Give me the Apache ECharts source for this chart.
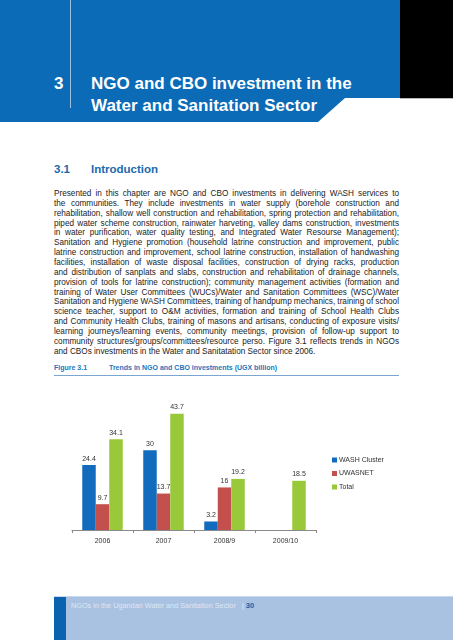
<!DOCTYPE html>
<html>
<head>
<meta charset="utf-8">
<script src="https://cdn.jsdelivr.net/npm/echarts@6/dist/echarts.min.js"></script>
<style>
  html, body { margin: 0; padding: 0; background: #fff; }
  #page { position: relative; width: 453px; height: 640px; overflow: hidden; font-family: "Liberation Sans", Arial, sans-serif; }
  .abs { position: absolute; }
  #hdr { left: 0; top: 0; width: 400px; height: 122px; background: #0b6bb6;
         clip-path: polygon(0 0, 400px 0, 400px 98px, 345px 98px, 318px 122px, 0 122px); }
  #blk { left: 400px; top: 0; width: 53px; height: 98px; background: #000; border-bottom: 1px solid #b8b8b8; }
  #vline { left: 70px; top: 0; width: 1px; height: 108px; background: #9cc0e4; }
  .ttl { color: #fff; font-weight: bold; font-size: 17px; line-height: 20px; white-space: nowrap; }
  #sec { top: 160px; color: #1b6aad; font-weight: bold; font-size: 11.5px; line-height: 19px; white-space: nowrap; }
  .bl { position: absolute; left: 54px; width: 345px; font-size: 8.2px; line-height: 10px; color: #222; white-space: nowrap; }
  .cap { top: 363px; color: #2376bd; font-weight: bold; font-size: 7px; line-height: 10px; white-space: nowrap; }
  #rule { left: 54px; top: 375px; width: 345px; height: 1px; background: #7aa6d1; }
  #foot { left: 54px; top: 596px; width: 399px; height: 44px; background: #aac2e1; border-top: 1px solid #c9daf0; }
  #fstrip { left: 54px; top: 597px; width: 12px; height: 43px; background: #0b63b0; }
  #ftext { left: 71px; top: 600px; font-size: 7.3px; line-height: 11px; color: #dde7f4; white-space: nowrap; }
  #chart { position: absolute; left: 0; top: 0; width: 453px; height: 640px; }
</style>
</head>
<body>
<div id="page">
  <div id="hdr" class="abs"></div>
  <div id="blk" class="abs"></div>
  <div id="vline" class="abs"></div>
  <div class="abs ttl" style="left:54px; top:74px;">3</div>
  <div class="abs ttl" style="left:91px; top:74px;">NGO and CBO investment in the</div>
  <div class="abs ttl" style="left:91px; top:96px;">Water and Sanitation Sector</div>

  <div id="sec" class="abs" style="left:54px;">3.1</div>
  <div id="sec2" class="abs" style="left:91px; top:160px; color:#1b6aad; font-weight:bold; font-size:11.5px; line-height:19px; white-space:nowrap;">Introduction</div>

  <div id="body"></div>

  <div class="abs cap" style="left:54px;">Figure 3.1</div>
  <div class="abs cap" style="left:109px;">Trends in NGO and CBO investments (UGX billion)</div>
  <div id="rule" class="abs"></div>

  <div id="foot" class="abs"></div>
  <div id="fstrip" class="abs"></div>
  <div id="ftext" class="abs">NGOs in the Ugandan Water and Sanitation Sector &nbsp;&nbsp;<span style="color:#e6eef8;">|</span> <b style="color:#1a62ad; font-size:7.6px;">30</b></div>

  <div id="chart"></div>
</div>
<script>
// ---- data ----
const categories = ["2006", "2007", "2008/9", "2009/10"];
const washCluster = [24.4, 30, 3.2, null];
const uwasnet = [9.7, 13.7, 16, null];
const total = [34.1, 43.7, 19.2, 18.5];
const seriesNames = ["WASH Cluster", "UWASNET", "Total"];

const bodyLines = [
  "Presented in this chapter are NGO and CBO investments in delivering WASH services to",
  "the communities. They include investments in water supply (borehole construction and",
  "rehabilitation, shallow well construction and rehabilitation, spring protection and rehabilitation,",
  "piped water scheme construction, rainwater harveting, valley dams construction, investments",
  "in water purification, water quality testing, and Integrated Water Resourse Management);",
  "Sanitation and Hygiene promotion (household latrine construction and improvement, public",
  "latrine construction and improvement, school latrine construction, installation of handwashing",
  "facilities, installation of waste disposal facilities, construction of drying racks, production",
  "and distribution of sanplats and slabs, construction and rehabilitation of drainage channels,",
  "provision of tools for latrine construction); community management activities (formation and",
  "training of Water User Committees (WUCs)/Water and Sanitation Committees (WSC)/Water",
  "Sanitation and Hygiene WASH Committees, training of handpump mechanics, training of school",
  "science teacher, support to O&M activities, formation and training of School Health Clubs",
  "and Community Health Clubs, training of masons and artisans, conducting of exposure visits/",
  "learning journeys/learning events, community meetings, provision of follow-up support to",
  "community structures/groups/committees/resource perso. Figure 3.1 reflects trends in NGOs",
  "and CBOs investments in the Water and Sanitatation Sector since 2006."
];

// ---- body text, justified line by line ----
const body = document.getElementById("body");
bodyLines.forEach((txt, i) => {
  const d = document.createElement("div");
  d.className = "bl";
  d.style.top = (189 + i * 9.85) + "px";
  const s = document.createElement("span");
  s.textContent = txt;
  d.appendChild(s);
  body.appendChild(d);
  if (i < bodyLines.length - 1) {
    const w = s.getBoundingClientRect().width;
    const spaces = (txt.match(/ /g) || []).length;
    if (spaces > 0) s.style.wordSpacing = ((345 - w) / spaces) + "px";
  }
});

// ---- chart ----
const chart = echarts.init(document.getElementById("chart"), null, { renderer: "canvas" });
const colors = ["#136bbd", "#c4504e", "#99c93b"];
const labelCfg = { show: true, position: "top", distance: 3, fontSize: 7, color: "#333",
                   fontFamily: "Liberation Sans, Arial, sans-serif" };
chart.setOption({
  backgroundColor: "transparent",
  animation: false,
  color: colors,
  legend: {
    orient: "vertical", left: 327, top: 451,
    itemWidth: 5, itemHeight: 5, itemGap: 5.5, icon: "rect",
    textStyle: { fontSize: 7, color: "#333", lineHeight: 8, padding: [0, 0, 0, -3],
                 fontFamily: "Liberation Sans, Arial, sans-serif" },
    data: seriesNames
  },
  grid: { left: 72, width: 244, top: 397, height: 133 },
  xAxis: {
    type: "category", data: categories,
    axisLine: { lineStyle: { color: "#8a8a8a", width: 1 } },
    axisTick: { show: true, length: 3, lineStyle: { color: "#8a8a8a" } },
    axisLabel: { fontSize: 7, color: "#333", margin: 8, fontFamily: "Liberation Sans, Arial, sans-serif" }
  },
  yAxis: { type: "value", min: 0, max: 50, show: false, splitLine: { show: false } },
  series: [
    { name: seriesNames[0], type: "bar", data: washCluster, barGap: "0%", barCategoryGap: "33.6%", label: labelCfg },
    { name: seriesNames[1], type: "bar", data: uwasnet, barGap: "0%", barCategoryGap: "33.6%", label: labelCfg },
    { name: seriesNames[2], type: "bar", data: total, barGap: "0%", barCategoryGap: "33.6%", label: labelCfg }
  ]
});
</script>
</body>
</html>
